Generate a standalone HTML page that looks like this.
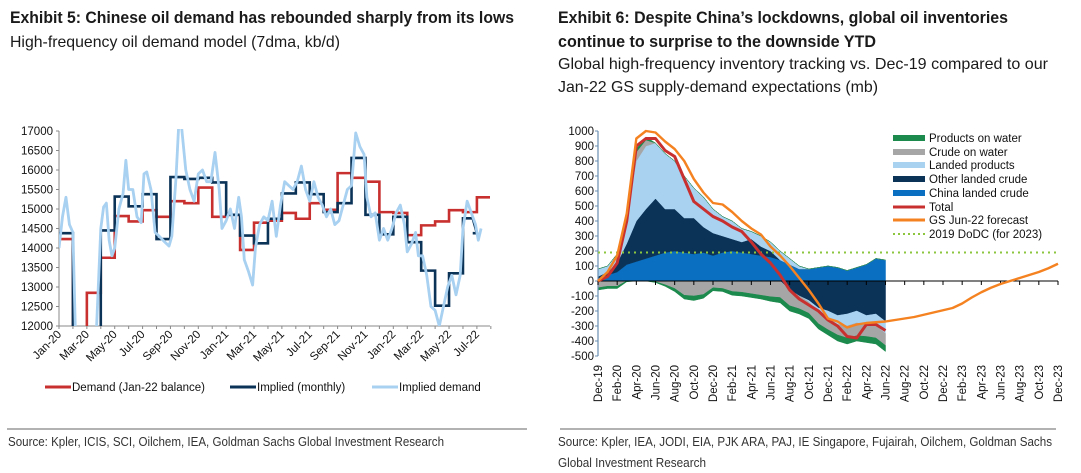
<!DOCTYPE html>
<html><head><meta charset="utf-8"><style>
html,body{margin:0;padding:0;background:#fff;}
svg{display:block;font-family:"Liberation Sans",Arial,sans-serif;}
.ttl{font-family:"Liberation Sans Narrow","Liberation Sans",sans-serif;font-weight:bold;font-size:17px;fill:#1a1a1a;}
.sub{font-family:"Liberation Sans Narrow","Liberation Sans",sans-serif;font-size:16px;fill:#1a1a1a;}
.src{font-family:"Liberation Sans Narrow","Liberation Sans",sans-serif;font-size:13px;fill:#333;}
.tk{font-size:11.5px;fill:#111;}
.lg{font-size:11.5px;fill:#111;}
</style></head><body>
<svg id="root" width="1081" height="473" viewBox="0 0 1081 473" xmlns="http://www.w3.org/2000/svg">
<text class="ttl" x="10" y="23" textLength="504" lengthAdjust="spacingAndGlyphs">Exhibit 5: Chinese oil demand has rebounded sharply from its lows</text>
<text class="sub" x="10" y="47" textLength="330" lengthAdjust="spacingAndGlyphs">High-frequency oil demand model (7dma, kb/d)</text>
<text class="ttl" x="558" y="23" textLength="450" lengthAdjust="spacingAndGlyphs">Exhibit 6: Despite China’s lockdowns, global oil inventories</text>
<text class="ttl" x="558" y="47" textLength="318" lengthAdjust="spacingAndGlyphs">continue to surprise to the downside YTD</text>
<text class="sub" x="558" y="69" textLength="490" lengthAdjust="spacingAndGlyphs">Global high-frequency inventory tracking vs. Dec-19 compared to our</text>
<text class="sub" x="558" y="92" textLength="320" lengthAdjust="spacingAndGlyphs">Jan-22 GS supply-demand expectations (mb)</text>
<line x1="7" y1="429" x2="527" y2="429" stroke="#999" stroke-width="1.5"/>
<line x1="560" y1="429" x2="1056" y2="429" stroke="#999" stroke-width="1.5"/>
<text class="src" x="8" y="446" textLength="436" lengthAdjust="spacingAndGlyphs">Source: Kpler, ICIS, SCI, Oilchem, IEA, Goldman Sachs Global Investment Research</text>
<text class="src" x="558" y="446" textLength="494" lengthAdjust="spacingAndGlyphs">Source: Kpler, IEA, JODI, EIA, PJK ARA, PAJ, IE Singapore, Fujairah, Oilchem, Goldman Sachs</text>
<text class="src" x="558" y="467" textLength="148" lengthAdjust="spacingAndGlyphs">Global Investment Research</text>
<g id="c1"></g>
<g id="c2"></g>
</svg>
<script>
// ---------- Exhibit 5 data ----------
const monthLabels1 = ["Jan-20","Mar-20","May-20","Jul-20","Sep-20","Nov-20","Jan-21","Mar-21","May-21","Jul-21","Sep-21","Nov-21","Jan-22","Mar-22","May-22","Jul-22"];
const yTicks1 = [12000,12500,13000,13500,14000,14500,15000,15500,16000,16500,17000];
const demandMonthly = [14230,11500,12850,13750,14820,14680,14970,14800,15200,15150,15550,14800,14850,13950,14650,14700,14900,14750,15150,14980,15920,15800,15700,14920,14900,14330,14580,14680,14970,14920,15300];
const impliedMonthly = [14380,11000,11000,14450,15320,15070,15380,14230,15820,15770,15800,15680,14850,14320,14120,14750,15400,15680,15380,14920,15150,16310,14850,14350,14800,14150,13420,12520,13350,14760,14380];
const impliedDemandT = [0,0.25,0.5,0.75,1.0,1.2,1.5,2.5,2.7,3.0,3.2,3.4,3.6,3.8,4.0,4.3,4.6,4.8,5.0,5.3,5.6,5.9,6.1,6.3,6.6,6.9,7.2,7.6,7.9,8.1,8.4,8.6,8.8,9.1,9.4,9.7,10.0,10.3,10.6,10.9,11.2,11.5,11.7,12.0,12.3,12.6,12.9,13.1,13.3,13.6,13.9,14.1,14.4,14.7,15.0,15.3,15.6,15.9,16.2,16.5,16.8,17.1,17.4,17.7,18.0,18.3,18.6,18.9,19.2,19.5,19.8,20.1,20.4,20.7,21.0,21.3,21.6,21.9,22.1,22.4,22.7,23.0,23.3,23.6,23.9,24.2,24.5,24.8,25.0,25.3,25.6,25.8,26.1,26.4,26.7,27.0,27.3,27.6,27.9,28.2,28.5,28.8,29.0,29.3,29.6,29.9,30.1,30.3];
const impliedDemandV = [14000,14800,15300,14600,14400,11500,11000,11000,12000,14500,15050,15150,14200,13800,14000,15000,15400,16250,15500,15500,14800,14650,15900,15950,15500,14400,14300,14150,14050,14300,15800,17200,17100,16000,15500,15200,15900,16000,15700,15700,16450,15500,14500,14700,15000,14500,15300,14800,13700,13400,13050,14000,14600,14800,14700,15200,14300,15100,15700,15600,15500,15700,16100,15500,15200,15700,15300,15100,14800,15000,14600,14700,15100,15500,15600,16950,16600,16400,15300,14800,14900,14200,14500,14200,14500,14900,15100,14600,13900,14100,14400,13800,13800,13300,12500,12400,12000,12500,13000,13300,12800,13300,14500,15200,14900,14600,14200,14500];

// ---------- Exhibit 6 data ----------
const monthLabels2 = ["Dec-19","Feb-20","Apr-20","Jun-20","Aug-20","Oct-20","Dec-20","Feb-21","Apr-21","Jun-21","Aug-21","Oct-21","Dec-21","Feb-22","Apr-22","Jun-22","Aug-22","Oct-22","Dec-22","Feb-23","Apr-23","Jun-23","Aug-23","Oct-23","Dec-23"];
const yTicks2 = [-500,-400,-300,-200,-100,0,100,200,300,400,500,600,700,800,900,1000];
const chinaCrude = [20,40,60,110,130,150,170,190,200,190,180,190,170,190,200,190,180,170,160,140,110,80,80,90,100,90,70,90,110,150,140];
const otherCrude = [10,20,60,140,270,330,380,290,280,230,240,170,150,110,80,70,100,60,40,0,-60,-100,-130,-180,-200,-230,-220,-200,-230,-220,-270];
const landedProducts = [50,40,60,200,400,420,370,370,320,280,200,200,160,130,120,90,50,70,60,60,40,20,-10,-30,-50,-60,-80,-80,-60,-80,-80];
const crudeOnWater = [-45,-35,-35,0,60,40,-5,-25,-50,-95,-100,-90,-45,-50,-70,-75,-85,-95,-105,-110,-105,-85,-75,-75,-75,-70,-80,-85,-80,-80,-80];
const productsOnWater = [-15,-15,-15,-5,20,20,-5,-10,-20,-25,-30,-25,-20,-20,-25,-25,-25,-25,-30,-35,-35,-35,-35,-35,-35,-40,-40,-35,-40,-40,-40];
const totalInv = [0,30,120,400,900,950,950,870,830,680,530,480,430,400,360,330,260,180,120,40,-60,-120,-160,-200,-260,-300,-370,-380,-290,-290,-330];
const gsForecast = [0,60,170,450,950,1000,990,930,880,800,680,590,520,510,460,400,350,310,230,170,100,20,-60,-150,-250,-270,-310,-290,-280,-275,-270,-260,-250,-240,-225,-210,-195,-180,-150,-110,-75,-45,-20,0,20,40,60,85,115];
const dodc2019 = 190;

const NS="http://www.w3.org/2000/svg";
function mk(parent,tag,attrs){const e=document.createElementNS(NS,tag);for(const k in attrs)e.setAttribute(k,attrs[k]);parent.appendChild(e);return e;}

// ===== Chart 1 =====
(function(){
const g=document.getElementById('c1');
const X0=59,X1=490,Y0=326,Y1=131;
const xs=m=>X0+m*13.93;
const ys=v=>Y0-(v-12000)/5000*(Y0-Y1);
const cp=mk(g,'clipPath',{id:'clip1'});mk(cp,'rect',{x:X0,y:Y1-2,width:X1-X0,height:Y0-Y1+2});
yTicks1.forEach(v=>{
 const t=mk(g,'text',{x:X0-6,y:ys(v)+4,'text-anchor':'end',class:'tk'});t.textContent=v;
 
 
 mk(g,'line',{x1:X0-3,x2:X0,y1:ys(v),y2:ys(v),stroke:'#888'});
});
const ax=mk(g,'path',{d:`M${X0},${Y1}V${Y0}H${X1}`,fill:'none',stroke:'#888','stroke-width':1});


for(let m=0;m<=31;m++){mk(g,'line',{x1:xs(m),x2:xs(m),y1:Y0,y2:Y0+3,stroke:'#888'});}
monthLabels1.forEach((l,i)=>{
 const x=xs(i*2),y=Y0+9;
 const t=mk(g,'text',{x:x+3,y:y,'text-anchor':'end',class:'tk',transform:`rotate(-45 ${x+3} ${y})`});t.textContent=l;
 
 
});
const gg=mk(g,'g',{'clip-path':'url(#clip1)'});
function step(arr,color,name,endM){
 let d='';arr.forEach((v,i)=>{const x0=xs(i),x1=xs(Math.min(i+1,endM));d+=(i?'L':'M')+x0+','+ys(v)+'L'+x1+','+ys(v);});
 const p=mk(gg,'path',{d:d,fill:'none',stroke:color,'stroke-width':2.6,'stroke-linejoin':'miter'});
 
 
}
step(demandMonthly,'#c8302f','demand-line',31);
step(impliedMonthly,'#0b3358','implied-monthly-line',29.7);
let d='';impliedDemandT.forEach((t,i)=>{d+=(i?'L':'M')+xs(t)+','+ys(impliedDemandV[i]);});
const p=mk(gg,'path',{d:d,fill:'none',stroke:'#a8d0f0','stroke-width':2.8,'stroke-linejoin':'round'});


const leg=[['#c8302f','Demand (Jan-22 balance)',45],['#0b3358','Implied (monthly)',230],['#a8d0f0','Implied demand',372]];
leg.forEach(([c,l,x])=>{
 const lg=mk(g,'g',{});
 
 
 mk(lg,'line',{x1:x,x2:x+26,y1:387,y2:387,stroke:c,'stroke-width':3});
 const t=mk(lg,'text',{x:x+27,y:391,class:'lg'});t.textContent=l;
});
})();

// ===== Chart 2 =====
(function(){
const g=document.getElementById('c2');
const X0=598,X1=1058,Y1=131,Y0=356;
const xs=m=>X0+m*(X1-X0)/48;
const ys=v=>Y1+(1000-v)*(Y0-Y1)/1500;
const n=chinaCrude.length;
const comps=[[chinaCrude,'#0a6fc0','china-landed-crude-area'],[otherCrude,'#0b3358','other-landed-crude-area'],[landedProducts,'#a9d1f0','landed-products-area'],[crudeOnWater,'#a6a6a6','crude-on-water-area'],[productsOnWater,'#1b8a4c','products-on-water-area']];
const pos=new Array(n).fill(0),neg=new Array(n).fill(0);
comps.forEach(([arr,col,name])=>{
 const lowP=pos.slice(),lowN=neg.slice();
 const hiP=lowP.map((v,i)=>v+Math.max(0,arr[i]));
 const hiN=lowN.map((v,i)=>v+Math.min(0,arr[i]));
 [[lowP,hiP],[lowN,hiN]].forEach(([lo,hi])=>{
  let d='';for(let i=0;i<n;i++)d+=(i?'L':'M')+xs(i)+','+ys(hi[i]);
  for(let i=n-1;i>=0;i--)d+='L'+xs(i)+','+ys(lo[i]);
  const p=mk(g,'path',{d:d+'Z',fill:col,stroke:col,'stroke-width':0.5});
  
  
 });
 for(let i=0;i<n;i++){pos[i]=hiP[i];neg[i]=hiN[i];}
});
yTicks2.forEach(v=>{
 const t=mk(g,'text',{x:X0-4,y:ys(v)+4,'text-anchor':'end',class:'tk'});t.textContent=v;
 
 
 mk(g,'line',{x1:X0-3,x2:X0,y1:ys(v),y2:ys(v),stroke:'#6a8fb0'});
});
const ya=mk(g,'line',{x1:X0,x2:X0,y1:Y1,y2:Y0,stroke:'#6a8fb0','stroke-width':1.2});


const xa=mk(g,'line',{x1:X0,x2:X1,y1:ys(0),y2:ys(0),stroke:'#000','stroke-width':1});


for(let m=0;m<=48;m+=2)mk(g,'line',{x1:xs(m),x2:xs(m),y1:ys(0),y2:ys(0)+4,stroke:'#000'});
monthLabels2.forEach((l,i)=>{
 const x=xs(i*2)+4,y=365;
 const t=mk(g,'text',{x:x,y:y,'text-anchor':'end',class:'tk',transform:`rotate(-90 ${x} ${y})`});t.textContent=l;
 
 
});
const dl=mk(g,'line',{x1:X0,x2:X1,y1:ys(dodc2019),y2:ys(dodc2019),stroke:'#8cc63f','stroke-width':2,'stroke-dasharray':'2,4'});


let d='';totalInv.forEach((v,i)=>{d+=(i?'L':'M')+xs(i)+','+ys(v);});
const tp=mk(g,'path',{d:d,fill:'none',stroke:'#c8302f','stroke-width':3,'stroke-linejoin':'round'});


d='';gsForecast.forEach((v,i)=>{d+=(i?'L':'M')+xs(i)+','+ys(v);});
const fp=mk(g,'path',{d:d,fill:'none',stroke:'#f58220','stroke-width':2.4,'stroke-linejoin':'round'});


const leg=[['#1b8a4c','Products on water','b'],['#a6a6a6','Crude on water','b'],['#a9d1f0','Landed products','b'],['#0b3358','Other landed crude','b'],['#0a6fc0','China landed crude','b'],['#c8302f','Total','l'],['#f58220','GS Jun-22 forecast','l'],['#8cc63f','2019 DoDC  (for 2023)','d']];
const ly=[138,152,165,179,193,207,220,234];
leg.forEach(([c,l,k],i)=>{
 const lg=mk(g,'g',{});
 
 
 const y=ly[i];
 if(k==='b')mk(lg,'rect',{x:893,y:y-3,width:32,height:6,fill:c});
 else if(k==='l')mk(lg,'line',{x1:893,x2:925,y1:y,y2:y,stroke:c,'stroke-width':3});
 else mk(lg,'line',{x1:893,x2:925,y1:y,y2:y,stroke:c,'stroke-width':2,'stroke-dasharray':'2,3'});
 const t=mk(lg,'text',{x:929,y:y+4,class:'lg'});t.textContent=l;
});
})();
</script>
</body></html>
